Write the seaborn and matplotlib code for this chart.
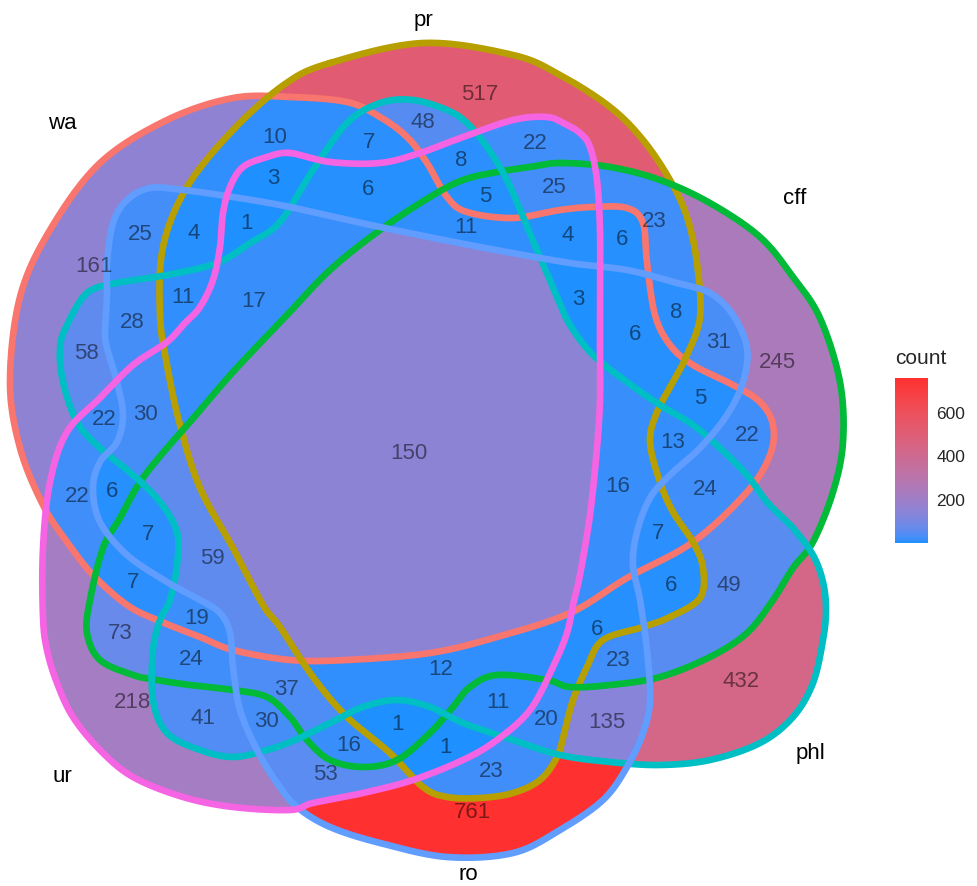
import numpy as np
import pandas as pd
import matplotlib
matplotlib.use("Agg")
import matplotlib.pyplot as plt
from matplotlib.path import Path
from matplotlib.colors import ListedColormap, to_rgb
import seaborn as sns

# sets and region counts
set_names = ["wa", "pr", "cff", "phl", "ro", "ur"]
set_colors = ["#F8766D", "#B79F00", "#00BA38", "#00BFC4", "#619CFF", "#F564E3"]

regions = ["pr", "pr&phl", "wa&pr&phl", "wa&pr", "pr&ur", "pr&phl&ur", "wa&pr&ur", "wa&pr&phl&ur",
           "pr&cff&phl&ur", "pr&cff&ur", "wa&pr&cff&phl&ur", "wa&pr&ro", "wa&pr&ro&ur", "wa&ro",
           "wa&pr&cff&ur", "wa&pr&cff", "pr&cff", "wa", "wa&pr&phl&ro", "wa&pr&phl&ro&ur", "wa&phl&ro",
           "wa&pr&cff&ro&ur", "pr&cff&ro", "cff&ro", "wa&pr&cff&ro", "cff", "wa&phl", "wa&phl&ur",
           "wa&phl&ro&ur", "wa&pr&cff&phl&ro&ur", "wa&cff&ro", "wa&cff&phl&ro", "wa&cff",
           "wa&pr&cff&phl&ro", "wa&cff&phl", "wa&ur", "wa&ro&ur", "wa&cff&ro&ur", "wa&cff&phl&ro&ur",
           "wa&pr&cff&phl", "wa&cff&ur", "pr&cff&phl", "cff&phl", "wa&cff&phl&ur", "cff&ur",
           "cff&phl&ur", "ur", "pr&cff&phl&ro", "cff&phl&ro", "phl", "pr&cff&phl&ro&ur", "cff&phl&ro&ur",
           "pr&phl&ro&ur", "pr&phl&ro", "phl&ur", "phl&ro&ur", "phl&ro", "cff&ro&ur", "pr&cff&ro&ur",
           "pr&ro&ur", "ro&ur", "pr&ro", "ro"]
counts = [517, 48, 7, 10, 22, 8, 3, 6, 5, 25, 11, 4, 1, 25, 4, 6, 23, 161, 11, 17, 28, 3, 8, 31, 6,
          245, 58, 22, 30, 150, 5, 13, 22, 16, 24, 22, 6, 7, 59, 7, 7, 6, 49, 19, 73, 24, 218, 6, 23,
          432, 12, 37, 11, 20, 41, 30, 135, 16, 1, 1, 53, 23, 761]

# outline shapes (layout, pixel space)
outlines = {
    "wa": [(290,97),(233,98),(167,120),(100,163),(50,230),(20,297),(10,382),(20,448),(43,505),(67,542),(93,575),(127,605),(157,620),
           (200,637),(233,650),(290,660),(347,660),(430,653),(497,637),(570,613),(627,578),(693,542),(747,492),(770,455),(773,425),
           (760,402),(733,385),(693,365),(670,345),(655,315),(647,263),(643,223),(627,208),(593,207),(560,210),(513,218),(467,212),
           (447,197),(427,163),(407,137),(380,117),(347,102)],
    "pr": [(330,63),(423,43),(513,55),(560,75),(610,107),(643,140),(670,180),(687,217),(697,263),(700,317),(687,355),(673,382),
           (657,412),(650,442),(660,482),(673,512),(693,542),(703,568),(700,598),(670,617),(643,627),(603,640),(587,667),(573,700),
           (565,730),(557,757),(540,780),(513,793),(480,798),(447,797),(423,787),(390,753),(347,717),(313,677),(280,627),(263,605),
           (233,548),(200,488),(180,425),(167,365),(160,315),(163,247),(187,187),(233,130),(285,84)],
    "cff": [(560,163),(610,167),(660,180),(710,203),(760,237),(793,277),(820,318),(840,382),(843,442),(833,492),(813,542),(793,568),
            (773,600),(747,633),(710,657),(660,677),(610,685),(570,687),(547,680),(497,675),(470,687),(453,707),(430,733),(397,760),
            (363,767),(330,760),(307,740),(290,717),(267,697),(233,690),(190,685),(157,680),(133,675),(100,660),(87,633),(90,600),
            (103,548),(120,518),(140,482),(167,448),(190,422),(233,372),(287,315),(330,270),(380,230),(430,197),(463,180),(497,172),(530,167)],
    "phl": [(280,222),(313,170),(347,123),(380,103),(413,100),(447,110),(467,123),(487,147),(507,180),(523,217),(540,257),(557,297),
            (570,325),(593,355),(627,382),(660,405),(693,425),(720,448),(747,475),(767,502),(793,528),(813,555),(823,582),(826,610),
            (823,640),(813,683),(793,717),(760,743),(710,760),(660,765),(610,762),(560,755),(513,740),(463,723),(430,707),(397,700),
            (363,707),(330,723),(295,740),(267,750),(233,757),(200,750),(167,733),(153,700),(153,650),(160,620),(170,600),(177,565),
            (177,532),(160,502),(133,475),(100,448),(77,422),(63,382),(60,348),(67,325),(87,293),(117,283),(167,275),(217,263),(250,243)],
    "ro": [(290,207),(233,197),(183,190),(150,188),(127,200),(113,223),(107,263),(107,297),(105,330),(107,348),(117,382),(123,415),
           (117,442),(100,462),(93,488),(100,522),(127,555),(167,582),(200,600),(220,613),(230,633),(233,667),(240,710),(257,750),
           (277,783),(297,807),(330,827),(380,843),(447,857),(513,853),(560,830),(603,800),(627,767),(643,733),(650,700),(647,650),
           (640,600),(633,565),(637,532),(650,498),(670,475),(700,448),(727,415),(743,382),(747,348),(733,315),(710,293),(677,283),
           (627,270),(570,263),(480,247),(380,227)],
    "ur": [(290,153),(267,157),(243,167),(230,187),(223,213),(220,247),(213,280),(200,307),(185,323),(167,342),(133,365),(100,398),
           (67,432),(50,482),(43,548),(43,617),(47,650),(57,683),(73,717),(100,750),(133,777),(183,797),(233,807),(290,810),(313,803),
           (363,793),(413,780),(463,760),(497,740),(530,710),(553,667),(567,633),(573,605),(580,575),(590,515),(597,448),(600,400),
           (600,358),(600,300),(600,230),(597,180),(590,147),(580,133),(565,124),(547,117),(513,120),(463,137),(420,153),(380,163),(330,162)],
}
label_pos = {"wa": (62, 123), "pr": (423, 20), "cff": (795, 198), "phl": (810, 753), "ro": (468, 875), "ur": (62, 777)}

W, H = 977, 886


def smooth_closed(pts, n=24):
    # closed catmull-rom through the outline points
    p = np.asarray(pts, float)
    p0, p1, p2, p3 = np.roll(p, 1, 0), p, np.roll(p, -1, 0), np.roll(p, -2, 0)
    t = np.linspace(0, 1, n, endpoint=False)[:, None, None]
    out = 0.5 * (2 * p1 + (p2 - p0) * t + (2 * p0 - 5 * p1 + 4 * p2 - p3) * t ** 2
                 + (-p0 + 3 * p1 - 3 * p2 + p3) * t ** 3)
    out = out.transpose(1, 0, 2).reshape(-1, 2)
    return np.vstack([out, out[:1]])


M = np.array([[0.4124, 0.3576, 0.1805], [0.2126, 0.7152, 0.0722], [0.0193, 0.1192, 0.9505]])
WHITE = np.array([0.95047, 1.0, 1.08883])


def to_lab(c):
    c = np.asarray(to_rgb(c))
    c = np.where(c <= 0.04045, c / 12.92, ((c + 0.055) / 1.055) ** 2.4)
    xyz = M @ c / WHITE
    f = np.where(xyz > (6 / 29) ** 3, np.cbrt(xyz), xyz / (3 * (6 / 29) ** 2) + 4 / 29)
    return np.array([116 * f[1] - 16, 500 * (f[0] - f[1]), 200 * (f[1] - f[2])])


def from_lab(lab):
    fy = (lab[:, 0] + 16) / 116
    f = np.stack([fy + lab[:, 1] / 500, fy, fy - lab[:, 2] / 200], 1)
    xyz = np.where(f > 6 / 29, f ** 3, 3 * (6 / 29) ** 2 * (f - 4 / 29)) * WHITE
    rgb = xyz @ np.linalg.inv(M).T
    rgb = np.where(rgb <= 0.0031308, 12.92 * rgb, 1.055 * np.clip(rgb, 0, None) ** (1 / 2.4) - 0.055)
    return np.clip(rgb, 0, 1)


# ggplot-like gradient (interpolated in Lab)
lo, hi = to_lab("#1E90FF"), to_lab("#FF3030")
tt = np.linspace(0, 1, 256)[:, None]
cmap = ListedColormap(from_lab(lo + tt * (hi - lo)))

# membership of each pixel in the six sets
gx, gy = np.meshgrid(np.arange(W) + 0.5, np.arange(H) + 0.5)
pts = np.column_stack([gx.ravel(), gy.ravel()])
member = np.zeros(H * W, dtype=int)
curves = {}
for i, s in enumerate(set_names):
    curves[s] = smooth_closed(outlines[s])
    member |= Path(curves[s]).contains_points(pts).astype(int) << i
member = member.reshape(H, W)

keys = [sum(1 << set_names.index(s) for s in r.split("&")) for r in regions]
vals = np.full((H, W), np.nan)
for k, c in zip(keys, counts):
    vals[member == k] = c

sns.set_theme(style="white")
plt.rcParams["font.family"] = ["Liberation Sans", "DejaVu Sans"]

fig = plt.figure(figsize=(W / 100, H / 100), dpi=100)
ax = fig.add_axes([0, 0, 1, 1])
cax = fig.add_axes([895 / W, 1 - 543 / H, 33 / W, 165 / H])
sns.heatmap(vals, ax=ax, cmap=cmap, vmin=1, vmax=761, cbar_ax=cax,
            xticklabels=False, yticklabels=False)
for s, col in zip(set_names, set_colors):
    ax.plot(curves[s][:, 0], curves[s][:, 1], color=col, lw=4.8, solid_capstyle="round")
ax.set_xlim(0, W)
ax.set_ylim(H, 0)
ax.axis("off")

# count labels at region centres
df = pd.DataFrame({"key": member.ravel(), "x": pts[:, 0], "y": pts[:, 1]})
cent = df[df.key > 0].groupby("key")[["x", "y"]].mean()
for k, c in zip(keys, counts):
    if k not in cent.index:
        continue
    cx, cy = cent.loc[k, "x"], cent.loc[k, "y"]
    if member[int(cy), int(cx)] != k:
        sub = df[df.key == k]
        j = ((sub.x - cx) ** 2 + (sub.y - cy) ** 2).idxmin()
        cx, cy = sub.loc[j, "x"], sub.loc[j, "y"]
    ax.text(cx, cy, str(c), ha="center", va="center", fontsize=16, color="black", alpha=0.5)

for s in set_names:
    ax.text(*label_pos[s], s, ha="center", va="center", fontsize=16, color="black")

cbar = ax.collections[0].colorbar
cbar.outline.set_visible(False)
cbar.set_ticks([200, 400, 600])
cax.tick_params(axis="y", left=True, right=True, direction="in", length=6, width=1,
                color="white", labelsize=12.5, pad=6)
fig.text(895 / W, 1 - 358 / H, "count", fontsize=15, ha="left", va="center")

fig.savefig("out.png", dpi=100, facecolor="white")
